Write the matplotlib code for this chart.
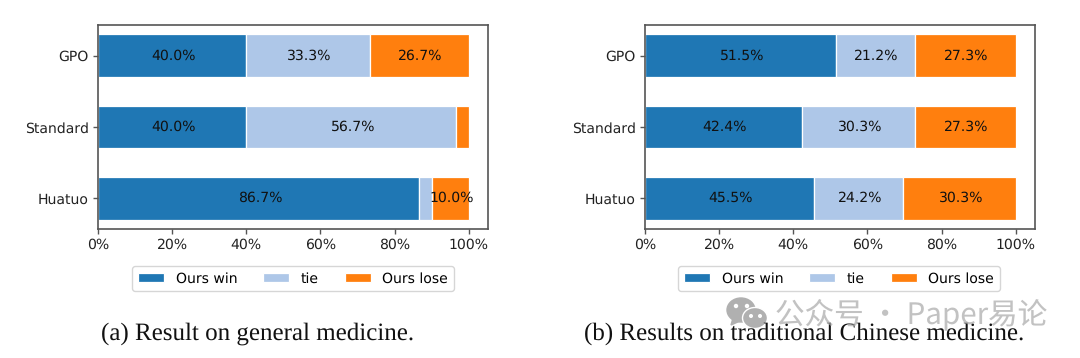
import matplotlib
matplotlib.use("Agg")
import matplotlib.pyplot as plt
from matplotlib.patches import Ellipse, Polygon
from matplotlib.ticker import PercentFormatter

methods = ["Huatuo", "Standard", "GPO"]
series_names = ["Ours win", "tie", "Ours lose"]
colors = ["#1f77b4", "#aec7e8", "#ff7f0e"]

win_a = [86.7, 40.0, 40.0]
tie_a = [3.3, 56.7, 33.3]
lose_a = [10.0, 3.3, 26.7]

win_b = [45.5, 42.4, 51.5]
tie_b = [24.2, 30.3, 21.2]
lose_b = [30.3, 27.3, 27.3]

caption_a = "(a) Result on general medicine."
caption_b = "(b) Results on traditional Chinese medicine."
watermark = "公众号 · Paper易论"

plt.rcParams["text.hinting"] = "none"
plt.rcParams["text.hinting_factor"] = 1

W, H = 1080, 358
fig = plt.figure(figsize=(W / 100, H / 100), dpi=100)
FS = 10.3
SPINE = "#555555"


def px_axes(l, t, r, b):
    return fig.add_axes([l / W, 1 - b / H, (r - l) / W, (b - t) / H])


def draw(ax, win, tie, lose):
    left = [0, 0, 0]
    for vals, name, c in zip([win, tie, lose], series_names, colors):
        bars = ax.barh(methods, vals, left=left, height=0.6, color=c, edgecolor="white",
                       linewidth=0.9, label=name)
        labels = [f"{v:.1f}%" if v > 5 else "" for v in vals]
        ax.bar_label(bars, labels=labels, label_type="center", fontsize=FS, color="#111111",
                     padding=1)
        left = [a + b for a, b in zip(left, vals)]
    ax.set_xlim(0, 105.2)
    ax.set_ylim(-0.43, 2.43)
    ax.xaxis.set_major_formatter(PercentFormatter(decimals=0))
    ax.tick_params(labelsize=FS, colors="#222222", color=SPINE, length=3.5, width=1, pad=3)
    for s in ax.spines.values():
        s.set_color(SPINE)
        s.set_linewidth(1.2)


ax1 = px_axes(98, 25, 488, 229)
draw(ax1, win_a, tie_a, lose_a)
ax2 = px_axes(645, 25, 1035, 229)
draw(ax2, win_b, tie_b, lose_b)

for ax, cx in [(ax1, 293), (ax2, 839)]:
    ax.legend(loc="center", bbox_to_anchor=(cx / W, 1 - 278.5 / H), bbox_transform=fig.transFigure,
              ncol=3, fontsize=10, columnspacing=1.85, handlelength=1.87, handletextpad=0.86,
              borderpad=0.4, handleheight=0.6)

fig.text(258 / W, 1 - 334 / H, caption_a, family="Liberation Serif", fontsize=17.7,
         ha="center", va="center", color="#111111")
fig.text(804 / W, 1 - 334 / H, caption_b, family="Liberation Serif", fontsize=17.7,
         ha="center", va="center", color="#111111")

# watermark sits over the caption
fig.text(775 / W, 1 - 314 / H, watermark, family=["Noto Sans CJK SC", "DejaVu Sans"],
         fontsize=21.3, ha="left", va="center", color="#a8a8a8", alpha=0.7)
bg = fig.add_axes([0, 0, 1, 1], facecolor="none")
bg.set_xlim(0, W)
bg.set_ylim(H, 0)
bg.axis("off")
icon = "#b0b0b0"
bg.add_patch(Ellipse((741, 310), 28, 24, color=icon))
bg.add_patch(Polygon([(733, 318), (731, 325), (740, 321)], color=icon))
bg.add_patch(Ellipse((755, 318), 25, 21, facecolor=icon, edgecolor="white", lw=1))
for ex, ey, s in [(736, 306, 3), (747, 306, 3), (751, 316, 2.6), (760, 316, 2.6)]:
    bg.add_patch(Ellipse((ex, ey), s, s, color="white"))

fig.savefig("out.png", dpi=100, facecolor="white")
